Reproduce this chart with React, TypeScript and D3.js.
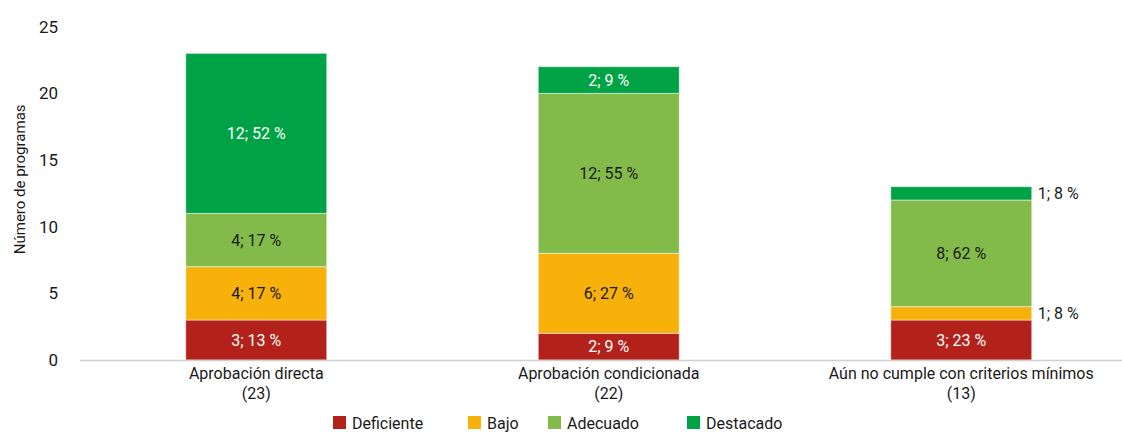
import React from "react";
import * as d3 from "d3";

const categories = ["Aprobación directa", "Aprobación condicionada", "Aún no cumple con criterios mínimos"];
const totals = [23, 22, 13];
const seriesNames = ["Deficiente", "Bajo", "Adecuado", "Destacado"];
const deficiente = [3, 2, 3];
const bajo = [4, 6, 1];
const adecuado = [4, 12, 8];
const destacado = [12, 2, 1];
const deficientePct = [13, 9, 23];
const bajoPct = [17, 27, 8];
const adecuadoPct = [17, 55, 62];
const destacadoPct = [52, 9, 8];
const yTicks = [0, 5, 10, 15, 20, 25];

const colors = ["#B2221A", "#F8B00B", "#83BB4B", "#00A246"];
const textColors = ["#ffffff", "#1a1a1a", "#1a1a1a", "#ffffff"];
const FONT = "Roboto, 'Open Sans', sans-serif";

export default function App() {
  const W = 1122, H = 433;
  const x = d3.scaleBand<string>().domain(categories).range([80, 1137.5]).paddingInner(0.6).paddingOuter(0.3);
  const y = d3.scaleLinear().domain([0, 25]).range([360, 26.7]);
  const values = [deficiente, bajo, adecuado, destacado];
  const pcts = [deficientePct, bajoPct, adecuadoPct, destacadoPct];
  const rows = categories.map((c, i) => {
    const r: any = { cat: c };
    seriesNames.forEach((s, k) => (r[s] = values[k][i]));
    return r;
  });
  const stack = d3.stack<any>().keys(seriesNames)(rows);
  const bw = x.bandwidth();
  const legendX = [333, 468, 548, 687];

  return (
    <svg width={W} height={H} style={{ position: "absolute", left: 0, top: 0, background: "#fff" }} fontFamily={FONT}>
      {yTicks.map((t) => (
        <text key={t} x={58} y={y(t)} dy="0.35em" textAnchor="end" fontSize={17} fill="#1a1a1a">{t}</text>
      ))}
      <text transform={`translate(25,${y(12.5) - 14}) rotate(-90)`} textAnchor="middle" fontSize={15} fill="#1a1a1a">Número de programas</text>
      {stack.map((layer, k) =>
        layer.map((d, i) => {
          const x0 = x(categories[i])!;
          const y0 = y(d[1]);
          const h = y(d[0]) - y(d[1]);
          const small = values[k][i] <= 1;
          const label = `${values[k][i]}; ${pcts[k][i]} %`;
          return (
            <g key={`${k}-${i}`}>
              <rect x={x0} y={y0} width={bw} height={h} fill={colors[k]} stroke="#ffffff" strokeOpacity={0.5} strokeWidth={1} />
              {small ? (
                <text x={x0 + bw + 6} y={y0 + h / 2} dy="0.35em" fontSize={16} fill="#1a1a1a">{label}</text>
              ) : (
                <text x={x0 + bw / 2} y={y0 + h / 2} dy="0.35em" textAnchor="middle" fontSize={16} fill={textColors[k]}>{label}</text>
              )}
            </g>
          );
        })
      )}
      <line x1={80} x2={1122} y1={360.5} y2={360.5} stroke="#d0d0d0" strokeWidth={1.5} />
      {categories.map((c, i) => (
        <g key={c}>
          <text x={x(c)! + bw / 2} y={379} textAnchor="middle" fontSize={16} fill="#1a1a1a">{c}</text>
          <text x={x(c)! + bw / 2} y={399} textAnchor="middle" fontSize={16} fill="#1a1a1a">({totals[i]})</text>
        </g>
      ))}
      {seriesNames.map((s, k) => (
        <g key={s}>
          <rect x={legendX[k]} y={416} width={13} height={13} fill={colors[k]} />
          <text x={legendX[k] + 19} y={423} dy="0.35em" fontSize={16} fill="#1a1a1a">{s}</text>
        </g>
      ))}
    </svg>
  );
}
